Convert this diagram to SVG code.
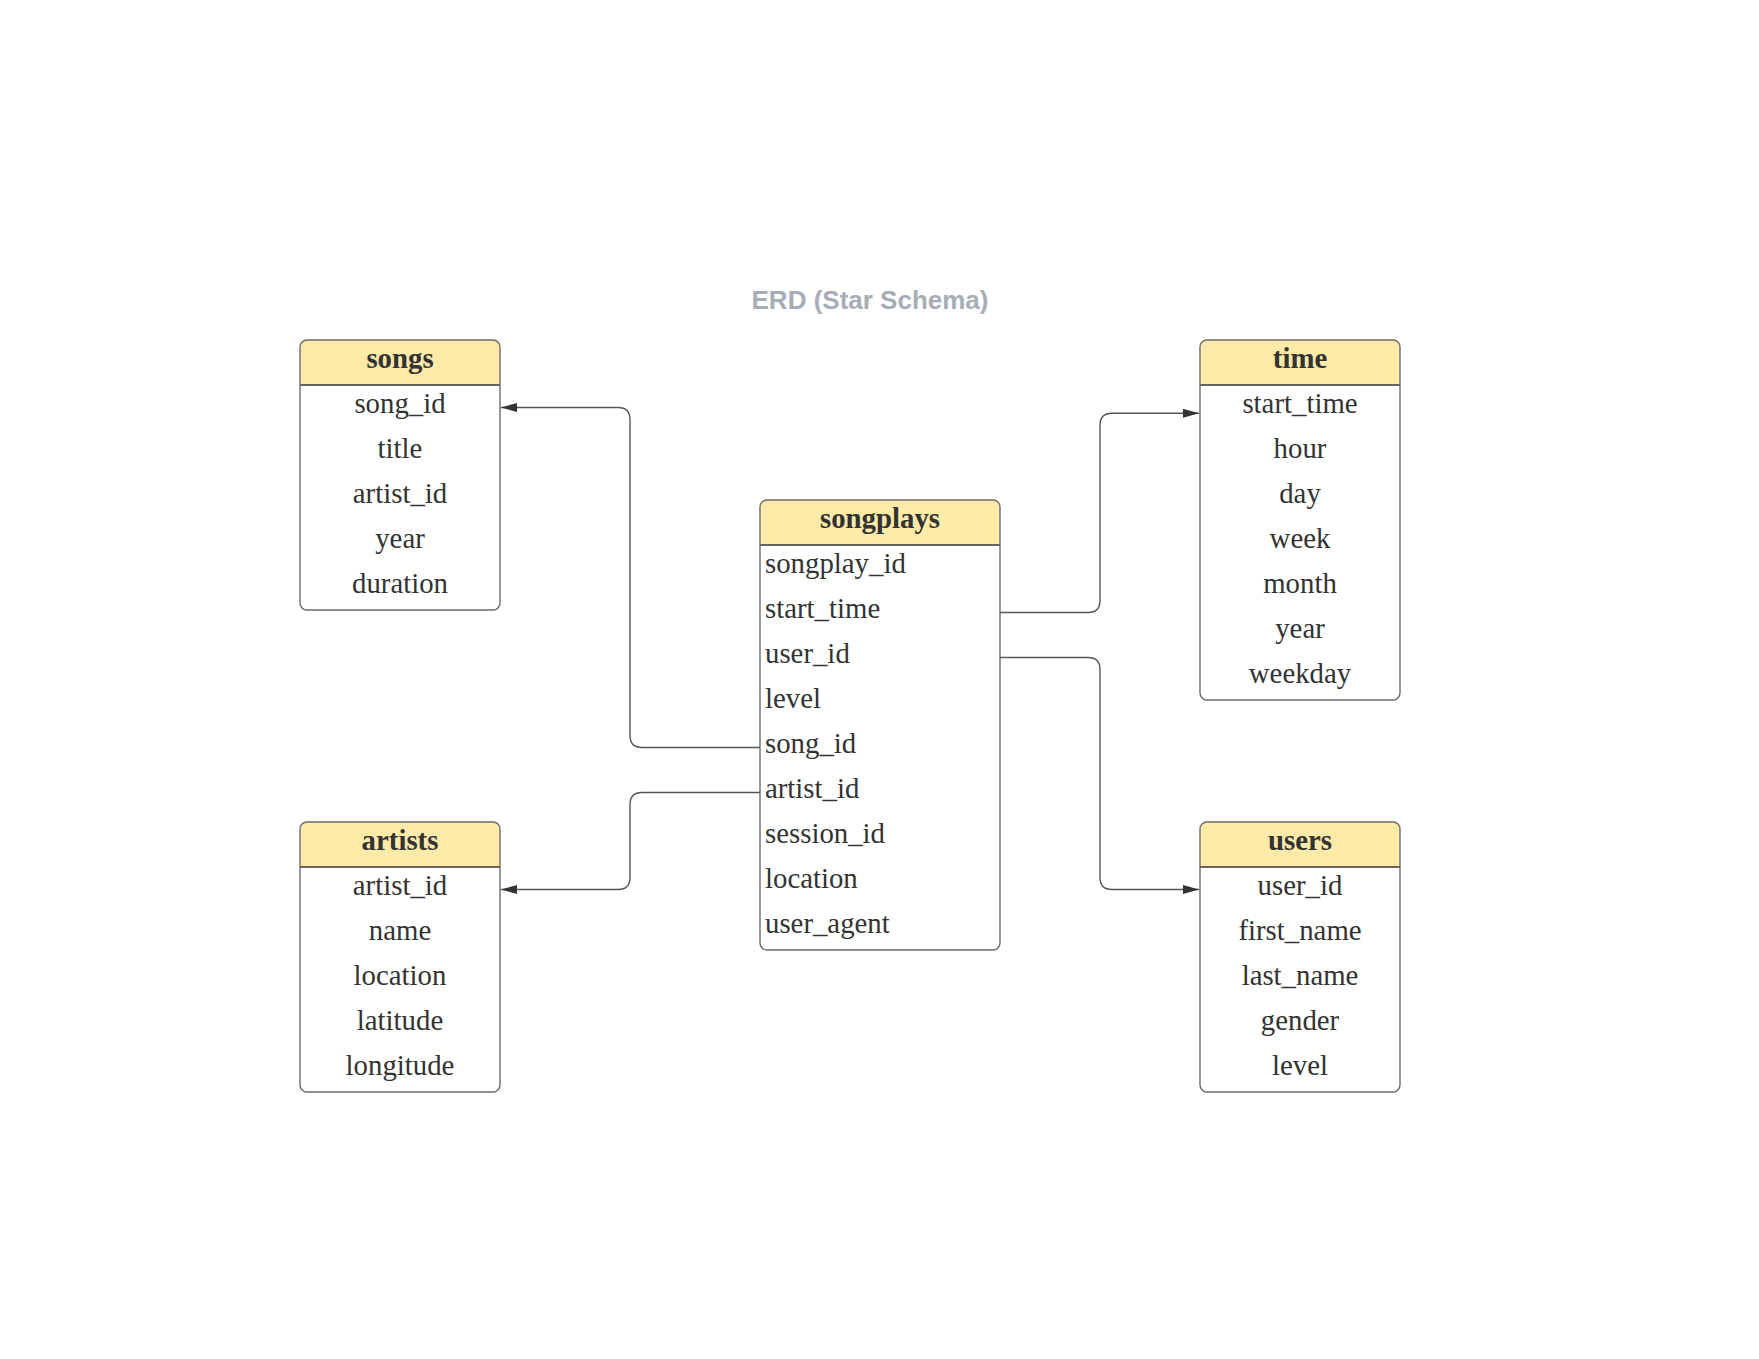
<svg xmlns="http://www.w3.org/2000/svg" width="1759" height="1359" viewBox="0 0 1759 1359">
<style>
.bg{fill:#ffffff}
.box{fill:none;stroke:#6b6b6b;stroke-width:1.4}
.body{fill:#ffffff}
.hdr{fill:#ffeaa7}
.div{stroke:#333333;stroke-width:1.4}
.ht{font-family:"Liberation Serif","Times New Roman",serif;font-size:28.8px;font-weight:bold;fill:#333333;text-anchor:middle}
.rt{font-family:"Liberation Serif","Times New Roman",serif;font-size:28.8px;fill:#333333}
.c{text-anchor:middle}
.title{font-family:"Liberation Sans",Arial,sans-serif;font-size:26px;font-weight:bold;fill:#a7adb7;text-anchor:middle}
.conn{fill:none;stroke:#555555;stroke-width:1.4}
</style>
<defs>
<marker id="arr" markerUnits="userSpaceOnUse" markerWidth="17" markerHeight="10" refX="16" refY="4.5" orient="auto">
<path d="M0,0 L16,4.5 L0,9 Z" fill="#333333"/>
</marker>
</defs>
<rect class="bg" x="0" y="0" width="1759" height="1359"/>
<text class="title" x="870" y="309">ERD (Star Schema)</text>

<g id="songs">
<rect class="body" x="300" y="340" width="200" height="270" rx="7"/>
<path class="hdr" d="M300,385 V347 Q300,340 307,340 H493 Q500,340 500,347 V385 Z"/>
<line class="div" x1="300" y1="385" x2="500" y2="385"/>
<rect class="box" x="300" y="340" width="200" height="270" rx="7"/>
<text class="ht" x="400" y="368.3">songs</text>
<text class="rt c" x="400" y="413.3">song_id</text>
<text class="rt c" x="400" y="458.3">title</text>
<text class="rt c" x="400" y="503.3">artist_id</text>
<text class="rt c" x="400" y="548.3">year</text>
<text class="rt c" x="400" y="593.3">duration</text>
</g>

<g id="artists">
<rect class="body" x="300" y="822" width="200" height="270" rx="7"/>
<path class="hdr" d="M300,867 V829 Q300,822 307,822 H493 Q500,822 500,829 V867 Z"/>
<line class="div" x1="300" y1="867" x2="500" y2="867"/>
<rect class="box" x="300" y="822" width="200" height="270" rx="7"/>
<text class="ht" x="400" y="850.3">artists</text>
<text class="rt c" x="400" y="895.3">artist_id</text>
<text class="rt c" x="400" y="940.3">name</text>
<text class="rt c" x="400" y="985.3">location</text>
<text class="rt c" x="400" y="1030.3">latitude</text>
<text class="rt c" x="400" y="1075.3">longitude</text>
</g>

<g id="songplays">
<rect class="body" x="760" y="500" width="240" height="450" rx="7"/>
<path class="hdr" d="M760,545 V507 Q760,500 767,500 H993 Q1000,500 1000,507 V545 Z"/>
<line class="div" x1="760" y1="545" x2="1000" y2="545"/>
<rect class="box" x="760" y="500" width="240" height="450" rx="7"/>
<text class="ht" x="880" y="528.3">songplays</text>
<text class="rt" x="765" y="573.3">songplay_id</text>
<text class="rt" x="765" y="618.3">start_time</text>
<text class="rt" x="765" y="663.3">user_id</text>
<text class="rt" x="765" y="708.3">level</text>
<text class="rt" x="765" y="753.3">song_id</text>
<text class="rt" x="765" y="798.3">artist_id</text>
<text class="rt" x="765" y="843.3">session_id</text>
<text class="rt" x="765" y="888.3">location</text>
<text class="rt" x="765" y="933.3">user_agent</text>
</g>

<g id="time">
<rect class="body" x="1200" y="340" width="200" height="360" rx="7"/>
<path class="hdr" d="M1200,385 V347 Q1200,340 1207,340 H1393 Q1400,340 1400,347 V385 Z"/>
<line class="div" x1="1200" y1="385" x2="1400" y2="385"/>
<rect class="box" x="1200" y="340" width="200" height="360" rx="7"/>
<text class="ht" x="1300" y="368.3">time</text>
<text class="rt c" x="1300" y="413.3">start_time</text>
<text class="rt c" x="1300" y="458.3">hour</text>
<text class="rt c" x="1300" y="503.3">day</text>
<text class="rt c" x="1300" y="548.3">week</text>
<text class="rt c" x="1300" y="593.3">month</text>
<text class="rt c" x="1300" y="638.3">year</text>
<text class="rt c" x="1300" y="683.3">weekday</text>
</g>

<g id="users">
<rect class="body" x="1200" y="822" width="200" height="270" rx="7"/>
<path class="hdr" d="M1200,867 V829 Q1200,822 1207,822 H1393 Q1400,822 1400,829 V867 Z"/>
<line class="div" x1="1200" y1="867" x2="1400" y2="867"/>
<rect class="box" x="1200" y="822" width="200" height="270" rx="7"/>
<text class="ht" x="1300" y="850.3">users</text>
<text class="rt c" x="1300" y="895.3">user_id</text>
<text class="rt c" x="1300" y="940.3">first_name</text>
<text class="rt c" x="1300" y="985.3">last_name</text>
<text class="rt c" x="1300" y="1030.3">gender</text>
<text class="rt c" x="1300" y="1075.3">level</text>
</g>

<g id="connectors">
<path class="conn" marker-end="url(#arr)" d="M760,747.5 H642 Q630,747.5 630,735.5 V419.5 Q630,407.5 618,407.5 H501"/>
<path class="conn" marker-end="url(#arr)" d="M760,792.5 H642 Q630,792.5 630,804.5 V877.5 Q630,889.5 618,889.5 H501"/>
<path class="conn" marker-end="url(#arr)" d="M1000,612.5 H1088 Q1100,612.5 1100,600.5 V425.3 Q1100,413.3 1112,413.3 H1199"/>
<path class="conn" marker-end="url(#arr)" d="M1000,657.5 H1088 Q1100,657.5 1100,669.5 V877.5 Q1100,889.5 1112,889.5 H1199"/>
</g>
</svg>
